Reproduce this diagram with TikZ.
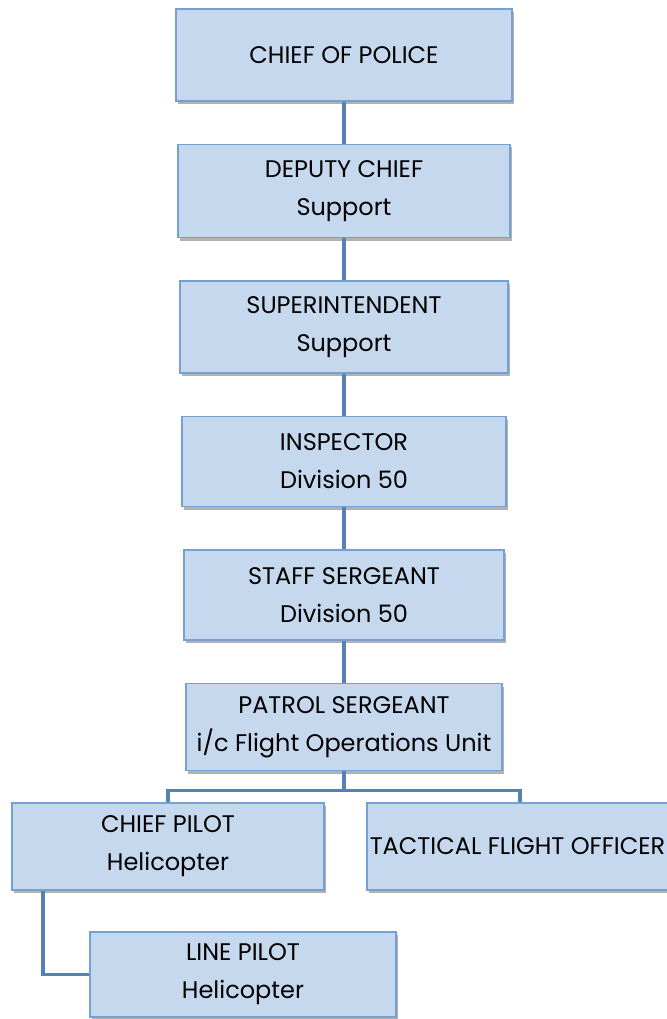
\documentclass[tikz,border=0pt]{standalone}
\usepackage{fontspec}
\setmainfont{Poppins}
\usetikzlibrary{positioning}
\usetikzlibrary{shadows}

\definecolor{boxfill}{HTML}{C6D8EE}
\definecolor{boxline}{HTML}{74A0D4}
\definecolor{linkblue}{HTML}{5582B3}

\tikzset{
  unit/.style={rectangle,draw=boxline,line width=1.5pt,fill=boxfill,align=center,
    font=\fontsize{24}{38}\selectfont,
    drop shadow={shadow xshift=2pt,shadow yshift=-3pt,fill=black,opacity=0.3}},
  link/.style={draw=linkblue,line width=3.5pt}
}

\begin{document}
\begin{tikzpicture}[x=1pt,y=1pt,node distance=42pt]
\useasboundingbox (0,0) rectangle (666,-1019);
\node[unit,minimum width=336pt,minimum height=92pt] (chief) at (344,-55) {CHIEF OF POLICE};
\node[unit,minimum width=332pt,minimum height=93pt,below=of chief] (deputy) {DEPUTY CHIEF\\Support};
\node[unit,minimum width=328pt,minimum height=92pt,below=of deputy] (supt) {SUPERINTENDENT\\Support};
\node[unit,minimum width=324pt,minimum height=90pt,below=of supt] (insp) {INSPECTOR\\Division 50};
\node[unit,minimum width=320pt,minimum height=90pt,below=of insp] (ssgt) {STAFF SERGEANT\\Division 50};
\node[unit,minimum width=316pt,minimum height=87pt,below=of ssgt] (psgt) {PATROL SERGEANT\\i/c Flight Operations Unit};
\node[unit,minimum width=312pt,minimum height=87pt] (cpilot) at (168,-846.5) {CHIEF PILOT\\Helicopter};
\node[unit,minimum height=87pt,anchor=west,inner xsep=3pt] (tfo) at (366,-846.5) {TACTICAL FLIGHT OFFICER};
\node[unit,minimum width=306pt,minimum height=85pt] (lpilot) at (243,-974.5) {LINE PILOT\\Helicopter};
\coordinate[below=19pt of psgt.south] (fork);
\coordinate (tfoin) at ([xshift=154pt]tfo.north west);
\draw [link] (chief) -- (deputy);
\draw [link] (deputy) -- (supt);
\draw [link] (supt) -- (insp);
\draw [link] (insp) -- (ssgt);
\draw [link] (ssgt) -- (psgt);
\draw [link] (psgt.south) -- (fork);
\draw [link] (cpilot.north) |- (fork) -| (tfoin);
\draw [link] ([xshift=-125pt]cpilot.south) |- (lpilot.west);
\end{tikzpicture}
\end{document}
